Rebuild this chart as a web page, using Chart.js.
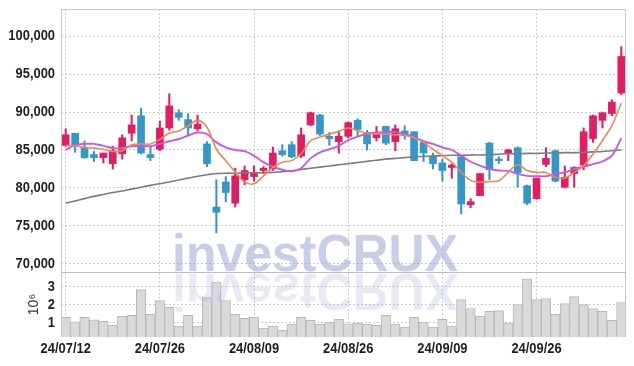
<!DOCTYPE html>
<html><head><meta charset="utf-8">
<script src="https://cdn.jsdelivr.net/npm/chart.js@4.4.1/dist/chart.umd.min.js"></script>
<style>html,body{margin:0;padding:0;background:#fff}</style>
</head><body>
<canvas id="c" width="634" height="366" style="display:block;width:634px;height:366px"></canvas>
<script>
const dates = ['24/07/12','24/07/15','24/07/16','24/07/17','24/07/18','24/07/19','24/07/22','24/07/23','24/07/24','24/07/25',
'24/07/26','24/07/29','24/07/30','24/07/31','24/08/01','24/08/02','24/08/05','24/08/06','24/08/07','24/08/08',
'24/08/09','24/08/12','24/08/13','24/08/14','24/08/16','24/08/19','24/08/20','24/08/21','24/08/22','24/08/23',
'24/08/26','24/08/27','24/08/28','24/08/29','24/08/30','24/09/02','24/09/03','24/09/04','24/09/05','24/09/06',
'24/09/09','24/09/10','24/09/11','24/09/12','24/09/13','24/09/19','24/09/20','24/09/23','24/09/24','24/09/25',
'24/09/26','24/09/27','24/09/30','24/10/02','24/10/04','24/10/07','24/10/08','24/10/10','24/10/11','24/10/14'];

const opens  = [85600,87200,85300,84400,84000,83200,84500,87200,89500,84400,
                85100,87900,89900,89000,87800,85800,77500,80800,78000,81100,
                81500,82300,82500,84900,85700,84200,88300,89600,86800,86100,
                86800,88900,87300,86600,88100,86100,87500,87400,86000,84200,
                83300,82700,84100,77800,79000,85900,83800,84600,85300,80300,
                78600,83100,84900,80100,81900,83000,86500,88900,89800,92500];
const highs  = [87800,87200,86200,84800,84600,85500,87000,89600,90500,85500,
                88800,92400,90300,89800,89600,86100,81100,81500,82600,82900,
                82900,82800,85400,85700,86100,87900,90000,89700,87300,87500,
                88700,89100,87600,88100,88100,88300,88200,87400,86100,84600,
                83800,83200,84300,78600,81900,86000,84100,85100,85400,80400,
                81300,85300,85000,82900,82800,87900,89600,90000,91600,98600];
const lows   = [85500,84700,83900,83500,83300,82500,83800,86200,84500,83600,
                84900,87600,88900,86900,87500,82800,74100,78200,77500,80400,
                80900,81900,82300,84200,84000,84000,88200,86900,85600,84600,
                86600,86800,85000,86200,85700,84900,86400,83600,83500,82500,
                80900,81300,76600,77400,79000,81100,83200,83600,80100,77800,
                78500,82800,80800,80000,80100,82400,86000,87900,89500,92300];
const closes = [87000,85600,84000,84000,84600,84900,86600,88300,84600,84000,
                87900,90800,89300,87900,88400,83200,76800,79400,81600,82300,
                82000,82600,84600,84400,84100,87000,89900,87100,86500,86800,
                88600,87700,85800,87100,85900,87800,86900,83600,84600,83200,
                82300,83000,77900,78200,81900,82400,83600,85000,82000,78000,
                81300,83900,80900,81400,82700,87400,89500,89900,91300,97300];

const ma5  = [85600,85550,85350,85250,85100,84800,84900,85700,85800,85800,
              86400,87200,87500,88200,88900,88000,85100,83600,82100,80800,
              80550,81600,82700,83400,83600,84500,86200,86700,87100,87450,
              87900,87550,87200,87100,87100,87000,86900,86600,86000,85100,
              84250,83400,82100,81000,80750,80850,80950,82050,83050,82300,
              82050,82050,81400,81300,82050,82950,84450,86250,88200,91150];
const ma20 = [85000,85650,85800,85800,85550,85250,85250,85500,85550,85500,
              85800,86150,86450,86900,87300,87100,86000,85350,85000,84850,
              84250,83400,82800,82400,82200,82600,83900,84700,85100,85550,
              86300,86750,87150,87300,87350,87350,87100,86700,86150,85800,
              85350,85000,84250,83450,82950,82500,82300,82250,81850,81600,
              81550,81550,81850,82050,82500,82800,83150,83500,84250,86550];
const ma60 = [78000,78300,78600,78900,79150,79400,79600,79850,80100,80350,
              80550,80800,81050,81300,81550,81750,81900,81950,81950,82000,
              82000,82000,82050,82150,82250,82450,82600,82750,82900,83050,
              83200,83350,83500,83650,83800,83900,84000,84100,84150,84200,
              84250,84300,84300,84350,84350,84400,84450,84500,84500,84550,
              84550,84600,84600,84650,84650,84700,84750,84800,84900,85000];
// volume in millions of shares
const volumes = [1.29,1.04,1.29,1.15,1.07,0.85,1.35,1.40,2.82,1.45,
                 2.22,1.84,0.80,1.40,0.80,2.38,3.24,2.22,1.45,1.24,
                 1.29,0.69,0.80,0.58,0.91,1.29,1.13,0.91,1.02,1.18,
                 0.93,0.96,0.91,0.85,1.40,0.91,0.75,1.29,1.02,0.75,
                 1.18,0.80,2.27,1.78,1.35,1.62,1.67,0.98,2.00,3.42,
                 2.27,2.33,1.45,2.05,2.44,2.00,1.78,1.62,1.13,2.11];
const priceTicks = [70000,75000,80000,85000,90000,95000,100000];
const volumeTicks = [1,2,3];

const RED = '#e31c63', BLUE = '#3497c9';
const colors = opens.map((o,i)=> closes[i] >= o ? RED : BLUE);
const FONT = '"Liberation Sans",Arial,sans-serif';
const GRID = '#c9cadb';
const LABEL_FONT = 'bold 15px ' + FONT;
const SQUEEZE = 0.86;

function narrowText(ctx, text, x, y, align) {
  ctx.save();
  ctx.translate(x, y);
  ctx.scale(SQUEEZE, 1);
  ctx.textAlign = align;
  ctx.textBaseline = 'middle';
  ctx.fillText(text, 0, 0);
  ctx.restore();
}

const deco = {
  id: 'deco',
  afterDatasetsDraw(chart) {
    const {ctx, scales} = chart;
    const base = scales.y.bottom - 1.5;
    ctx.save();
    ctx.font = 'bold 52px "Liberation Sans", Arial, sans-serif';
    const txt = 'investCRUX';
    const w = ctx.measureText(txt).width;
    const sx = 286 / w;
    ctx.translate(172, base);
    ctx.scale(sx, 1);
    ctx.fillStyle = 'rgba(146,158,210,0.5)';
    ctx.fillText(txt, 0, 0);
    ctx.scale(1, -1);
    ctx.fillStyle = 'rgba(146,158,210,0.22)';
    ctx.fillText(txt, 0, -3);
    ctx.restore();
  },
  afterDraw(chart) {
    const {ctx, chartArea: a, scales} = chart;
    ctx.save();
    ctx.strokeStyle = '#c8c8c8';
    ctx.lineWidth = 1;
    ctx.beginPath();
    ctx.moveTo(a.left + 0.5, a.bottom);
    ctx.lineTo(a.left + 0.5, a.top + 0.5);
    ctx.lineTo(a.right - 0.5, a.top + 0.5);
    ctx.lineTo(a.right - 0.5, a.bottom);
    ctx.stroke();
    ctx.strokeStyle = '#bdbdbd';
    ctx.beginPath();
    const yd = Math.round(scales.y.bottom) + 0.5;
    ctx.moveTo(a.left, yd); ctx.lineTo(a.right, yd);
    ctx.stroke();

    // tick labels (condensed)
    ctx.fillStyle = '#1e1e1e';
    ctx.font = LABEL_FONT;
    priceTicks.forEach(v => narrowText(ctx, v.toLocaleString('en-US'), a.left - 6, scales.y.getPixelForValue(v), 'right'));
    volumeTicks.forEach(v => narrowText(ctx, String(v), a.left - 6, scales.yv.getPixelForValue(v), 'right'));
    dates.forEach((d, i) => { if (i % 10 === 0) narrowText(ctx, d, scales.x.getPixelForValue(i), a.bottom + 12, 'center'); });

    // 10^6 unit label
    ctx.translate(34, (scales.yv.top + scales.yv.bottom) / 2);
    ctx.rotate(-Math.PI / 2);
    ctx.fillStyle = '#333';
    ctx.textAlign = 'center';
    ctx.textBaseline = 'middle';
    ctx.font = '14px ' + FONT;
    ctx.fillText('10\u2076', 0, 0);
    ctx.restore();
  }
};

const hidden = 'rgba(0,0,0,0)';
new Chart(document.getElementById('c'), {
  type: 'bar',
  data: {
    labels: dates,
    datasets: [
      {type:'line', label:'MA5', data: ma5, yAxisID:'y', borderColor:'#ef8850', borderWidth:1.6, pointRadius:0, tension:0.35, order:0},
      {type:'line', label:'MA20', data: ma20, yAxisID:'y', borderColor:'#c659e6', borderWidth:1.9, pointRadius:0, tension:0.35, order:0},
      {type:'line', label:'MA60', data: ma60, yAxisID:'y', borderColor:'#7c7c7c', borderWidth:1.6, pointRadius:0, tension:0.35, order:0},
      {label:'wick', data: lows.map((l,i)=>[l, highs[i]]), yAxisID:'y', backgroundColor: colors, barThickness:1.4, grouped:false, order:2},
      {label:'body', data: opens.map((o,i)=>[o, closes[i]]), yAxisID:'y', backgroundColor: colors, barThickness:7, minBarLength:1, grouped:false, order:1},
      {label:'volume', data: volumes, yAxisID:'yv', backgroundColor:'#d9d9d9', borderColor:'#b8b8b8', borderWidth:1, barPercentage:1, categoryPercentage:1, grouped:false, order:3}
    ]
  },
  options: {
    responsive: false,
    animation: false,
    devicePixelRatio: 1,
    plugins: {legend:{display:false}, tooltip:{enabled:false}},
    layout: {padding:{top:9, right:8, left:0, bottom:0}},
    scales: {
      x: {
        type:'category', offset:true,
        grid:{color:GRID, offset:false, drawTicks:false, lineWidth:1},
        border:{display:false, dash:[2,2]},
        ticks:{autoSkip:false, maxRotation:0, padding:4, color:hidden, font:{family:FONT, size:15}},
        afterBuildTicks: s => { s.ticks = s.ticks.filter(t => t.value % 10 === 0); },
        afterFit: s => { s.height = 29; s.paddingLeft = 0; s.paddingRight = 0; }
      },
      yv: {
        type:'linear', position:'left', stack:'main', stackWeight:65, weight:1,
        min:0.2, max:3.8,
        grid:{color:GRID, drawTicks:false},
        border:{display:false, dash:[2,2]},
        ticks:{autoSkip:false, padding:6, color:hidden, font:{family:FONT, size:15}, callback: v => String(v)},
        afterBuildTicks: s => { s.ticks = volumeTicks.map(v => ({value:v})); },
        afterFit: s => { s.width = 61; s.paddingTop = 0; s.paddingBottom = 0; }
      },
      y: {
        type:'linear', position:'left', stack:'main', stackWeight:263, weight:2,
        min:68947, max:103553,
        grid:{color:GRID, drawTicks:false},
        border:{display:false, dash:[2,2]},
        ticks:{autoSkip:false, padding:6, color:hidden, font:{family:FONT, size:15}, callback: v => v.toLocaleString('en-US')},
        afterBuildTicks: s => { s.ticks = priceTicks.map(v => ({value:v})); },
        afterFit: s => { s.width = 61; s.paddingTop = 0; s.paddingBottom = 0; }
      }
    }
  },
  plugins: [deco]
});
</script>
</body></html>
